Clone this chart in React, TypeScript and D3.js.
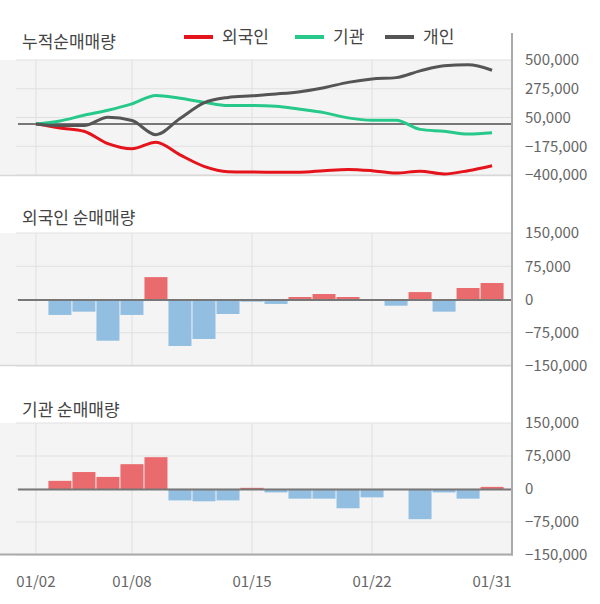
import React from "react";
import * as d3 from "d3";

const dates = [
  "01/02", "01/03", "01/04", "01/07", "01/08", "01/09", "01/10", "01/11", "01/14", "01/15",
  "01/16", "01/17", "01/18", "01/21", "01/22", "01/23", "01/24", "01/25", "01/28", "01/31",
];
const tickDates = ["01/02", "01/08", "01/15", "01/22", "01/31"];
const gridDates = ["01/02", "01/08", "01/15", "01/22"];

// 누적순매매량
const foreignCum = [0, -32000, -58000, -155000, -195000, -143000, -242000, -332000, -374000, -377000,
  -378000, -378000, -366000, -356000, -366000, -385000, -370000, -392000, -366000, -327000];
const instCum = [0, 23000, 68000, 107000, 157000, 223000, 200000, 170000, 144000, 144000,
  139000, 115000, 88000, 47000, 28000, 28000, -43000, -58000, -80000, -69000];
const indivCum = [0, -13000, -13000, 52000, 26000, -85000, 42000, 165000, 207000, 220000,
  234000, 252000, 283000, 325000, 352000, 362000, 415000, 455000, 462000, 420000];

// 일별 순매매량
const foreignNet = [0, -34000, -26500, -92500, -34000, 52000, -104500, -88600, -31800, -3800,
  -9000, 6800, 13600, 6800, 0, -13000, 18000, -26500, 27300, 38600];
const instNet = [0, 19800, 40000, 28800, 58000, 74000, -25000, -27000, -25000, 3800,
  -6800, -21000, -21000, -43000, -18000, 0, -68000, -6800, -21000, 6000];

const cumTicks = [500000, 275000, 50000, -175000, -400000];
const netTicks = [150000, 75000, 0, -75000, -150000];

const font = '"Noto Sans CJK KR", "Noto Sans", sans-serif';
const bg = "#f4f4f4";
const grid = "#e0e0e0";
const axisColor = "#aaa";
const labelColor = "#666";
const up = "#ea6b6e";
const down = "#92bfe1";

const left = 16;
const right = 512;

const x = d3.scalePoint<string>().domain(dates).range([left, right]).padding(0.83);
const step = x.step();
const fmt = d3.format(",");

function Panel({ top, bottom, domain, ticks }: { top: number; bottom: number; domain: [number, number]; ticks: number[] }) {
  const y = d3.scaleLinear().domain(domain).range([bottom, top]);
  return (
    <g>
      <rect x={0} y={top} width={right} height={bottom - top} fill={bg} />
      {ticks.map((t) => (
        <line key={t} x1={left} x2={right} y1={y(t)} y2={y(t)} stroke={grid} strokeWidth={1} />
      ))}
      {gridDates.map((d) => (
        <line key={d} x1={x(d)} x2={x(d)} y1={top} y2={bottom} stroke={grid} strokeWidth={1} />
      ))}
      {ticks.map((t) => (
        <text key={"l" + t} x={525} y={y(t)} dy="0.35em" fontSize={15} fill={labelColor} fontFamily={font}>
          {fmt(t)}
        </text>
      ))}
    </g>
  );
}

function Bars({ values, domain, top, bottom }: { values: number[]; domain: [number, number]; top: number; bottom: number }) {
  const y = d3.scaleLinear().domain(domain).range([bottom, top]);
  return (
    <g>
      {values.map((v, i) =>
        v === 0 ? null : (
          <rect
            key={i}
            x={(x(dates[i]) as number) - (step - 1) / 2}
            width={step - 1}
            y={Math.min(y(v), y(0))}
            height={Math.abs(y(v) - y(0))}
            fill={v > 0 ? up : down}
          />
        )
      )}
      <line x1={18} x2={right} y1={y(0)} y2={y(0)} stroke="#777" strokeWidth={2} />
    </g>
  );
}

export default function App() {
  const cumTop = 60, cumBottom = 175;
  const yCum = d3.scaleLinear().domain([-400000, 500000]).range([cumBottom, cumTop]);
  const line = d3
    .line<number>()
    .x((_, i) => x(dates[i]) as number)
    .y((v) => yCum(v))
    .curve(d3.curveMonotoneX);

  const series = [
    { name: "외국인", values: foreignCum, color: "#e5131b" },
    { name: "기관", values: instCum, color: "#27c98b" },
    { name: "개인", values: indivCum, color: "#555555" },
  ];
  const legendX = [184, 295, 385];

  return (
    <div style={{ position: "absolute", left: 0, top: 0 }}>
      <svg width={600} height={604} style={{ display: "block" }}>
        <rect width={600} height={604} fill="#fff" />

        {/* 누적 */}
        <Panel top={cumTop} bottom={cumBottom} domain={[-400000, 500000]} ticks={cumTicks} />
        <line x1={0} x2={right} y1={cumBottom + 0.5} y2={cumBottom + 0.5} stroke="#d8d8d8" strokeWidth={1.5} />
        <line x1={18} x2={right} y1={yCum(0)} y2={yCum(0)} stroke="#777" strokeWidth={2} />
        {series.map((s) => (
          <path key={s.name} d={line(s.values) || ""} fill="none" stroke={s.color} strokeWidth={3} />
        ))}
        <text x={22} y={48} fontSize={17} fill="#444" fontFamily={font}>누적순매매량</text>
        {series.map((s, i) => (
          <g key={"lg" + s.name}>
            <line x1={legendX[i]} x2={legendX[i] + 29} y1={37} y2={37} stroke={s.color} strokeWidth={4} />
            <text x={legendX[i] + 38} y={43} fontSize={17} fill="#444" fontFamily={font}>{s.name}</text>
          </g>
        ))}

        {/* 외국인 */}
        <Panel top={233} bottom={366} domain={[-150000, 150000]} ticks={netTicks} />
        <line x1={0} x2={right} y1={365.5} y2={365.5} stroke="#d8d8d8" strokeWidth={1.5} />
        <Bars values={foreignNet} domain={[-150000, 150000]} top={234} bottom={366} />
        <text x={22} y={224} fontSize={17} fill="#444" fontFamily={font}>외국인 순매매량</text>

        {/* 기관 */}
        <Panel top={423} bottom={555} domain={[-150000, 150000]} ticks={netTicks} />
        <Bars values={instNet} domain={[-150000, 150000]} top={424} bottom={555} />
        <text x={22} y={416} fontSize={17} fill="#444" fontFamily={font}>기관 순매매량</text>

        {/* axes */}
        <line x1={0} x2={right + 1} y1={554.5} y2={554.5} stroke={axisColor} strokeWidth={2} />
        <line x1={right} x2={right} y1={33} y2={555.5} stroke={axisColor} strokeWidth={2} />
        {tickDates.map((d) => (
          <text key={d} x={x(d)} y={587} textAnchor="middle" fontSize={15} fill={labelColor} fontFamily={font}>
            {d}
          </text>
        ))}
      </svg>
    </div>
  );
}
